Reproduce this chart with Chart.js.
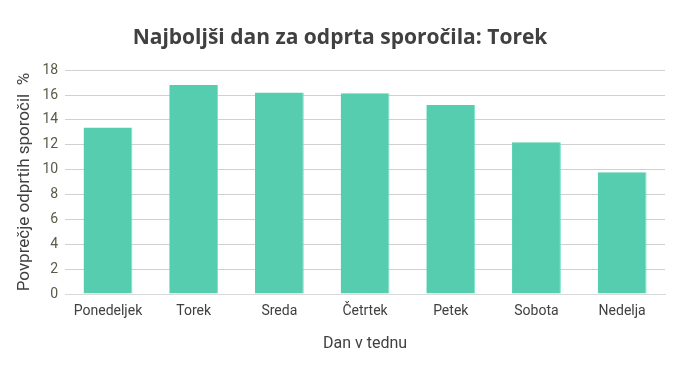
<!DOCTYPE html>
<html>
<head>
<meta charset="utf-8">
<script src="https://cdn.jsdelivr.net/npm/chart.js@4"></script>
<style>
  html, body { margin: 0; padding: 0; background: #fff; }
  #wrap { width: 690px; height: 369px; }
</style>
</head>
<body>
<div id="wrap"><canvas id="chart" width="690" height="369"></canvas></div>
<script>
// Data
const days = ["Ponedeljek", "Torek", "Sreda", "Četrtek", "Petek", "Sobota", "Nedelja"];
const openRate = [13.4, 16.8, 16.2, 16.15, 15.2, 12.2, 9.8];
const yTicks = [0, 2, 4, 6, 8, 10, 12, 14, 16, 18];

const ctx = document.getElementById("chart").getContext("2d");

new Chart(ctx, {
    type: 'bar',
    data: {
        labels: days,
        datasets: [{
            data: openRate,
            backgroundColor: '#55cdae',
            borderColor: '#74e3c6',
            borderWidth: { right: 1 },
            borderSkipped: 'bottom',
            categoryPercentage: 1,
            barPercentage: 0.57
        }]
    },
    options: {
        responsive: false,
        animation: false,
        layout: { padding: { left: 15, right: 25, bottom: 11 } },
        plugins: {
            legend: { display: false },
            tooltip: { enabled: false },
            title: {
                display: true,
                text: 'Najboljši dan za odprta sporočila: Torek',
                color: '#404040',
                font: { family: 'Open Sans', size: 21, weight: 'bold' },
                padding: { top: 25, bottom: 20 }
            }
        },
        scales: {
            x: {
                grid: { display: false },
                border: { display: true, color: '#d9d9d9' },
                ticks: { color: '#404040', font: { family: 'Roboto', size: 14 }, padding: 1 },
                title: {
                    display: true,
                    text: 'Dan v tednu',
                    color: '#404040',
                    font: { family: 'Roboto', size: 16 },
                    padding: { top: 14 }
                }
            },
            y: {
                min: 0,
                max: 18,
                afterBuildTicks: axis => { axis.ticks = yTicks.map(v => ({ value: v })); },
                grid: { color: '#d0d0d0', drawTicks: false },
                border: { display: false },
                ticks: { color: '#5a5a48', font: { family: 'Roboto', size: 14 }, padding: 7 },
                title: {
                    display: true,
                    text: 'Povprečje odprtih sporočil  %',
                    color: '#404040',
                    font: { family: 'Roboto', size: 17 },
                    padding: { top: 0, bottom: 0 }
                }
            }
        }
    }
});
</script>
</body>
</html>
